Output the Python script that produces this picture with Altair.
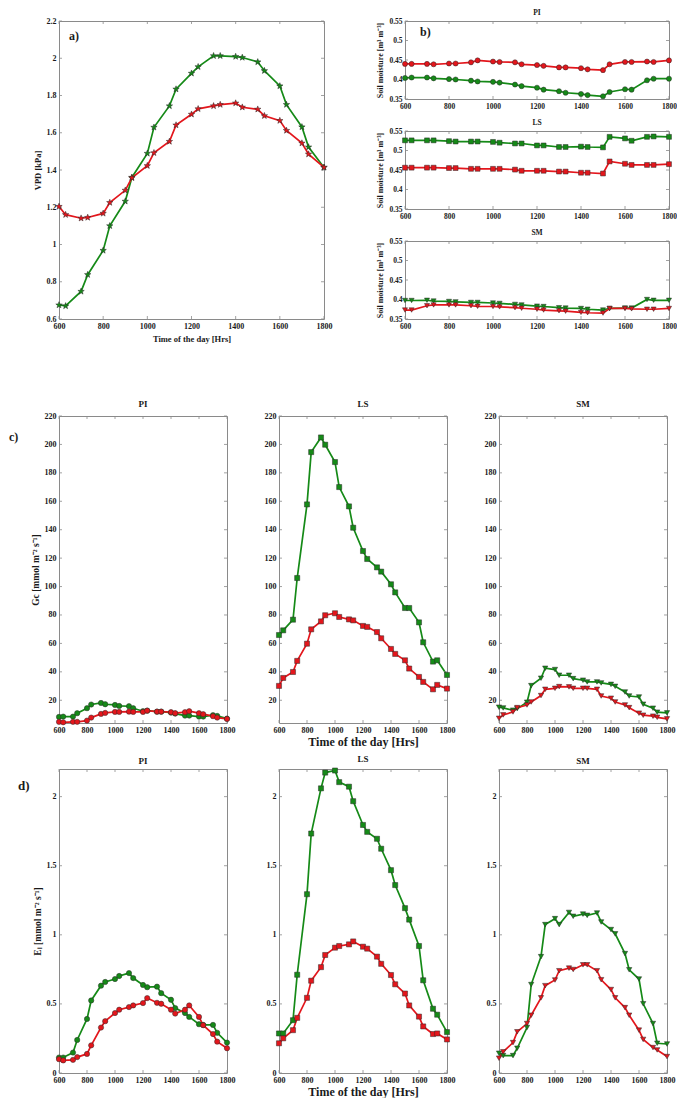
import math
import altair as alt
import pandas as pd

# ---------------- data ----------------
TIME = [600, 630, 700, 730, 800, 830, 900, 930, 1000, 1030, 1100, 1130, 1200,
        1230, 1300, 1330, 1400, 1430, 1500, 1530, 1600, 1630, 1700, 1730, 1800]
XTICKS = [600, 800, 1000, 1200, 1400, 1600, 1800]

# a) VPD [kPa]
VPD_GREEN = [0.675, 0.67, 0.748, 0.838, 0.968, 1.10, 1.232, 1.36, 1.489, 1.629, 1.744, 1.834, 1.919,
             1.954, 2.013, 2.013, 2.009, 2.004, 1.98, 1.933, 1.851, 1.751, 1.631, 1.523, 1.414]
VPD_RED = [1.204, 1.16, 1.141, 1.145, 1.167, 1.225, 1.291, 1.358, 1.423, 1.492, 1.553, 1.641, 1.699,
           1.728, 1.744, 1.751, 1.759, 1.737, 1.726, 1.691, 1.665, 1.612, 1.544, 1.485, 1.414]

# b) soil moisture
SOIL_PI_GREEN = [0.404, 0.405, 0.405, 0.403, 0.401, 0.400, 0.397, 0.395, 0.394, 0.392, 0.387, 0.383, 0.379,
                 0.374, 0.370, 0.366, 0.363, 0.360, 0.357, 0.368, 0.375, 0.374, 0.398, 0.402, 0.402]
SOIL_PI_RED = [0.440, 0.440, 0.440, 0.439, 0.441, 0.441, 0.444, 0.449, 0.446, 0.445, 0.444, 0.439, 0.437,
               0.435, 0.431, 0.431, 0.429, 0.426, 0.424, 0.439, 0.445, 0.445, 0.446, 0.445, 0.449]
SOIL_LS_GREEN = [0.526, 0.526, 0.526, 0.526, 0.524, 0.523, 0.523, 0.523, 0.522, 0.520, 0.518, 0.518, 0.513,
                 0.513, 0.509, 0.509, 0.510, 0.509, 0.508, 0.535, 0.531, 0.525, 0.535, 0.536, 0.535]
SOIL_LS_RED = [0.456, 0.456, 0.456, 0.456, 0.455, 0.455, 0.453, 0.453, 0.453, 0.453, 0.451, 0.448, 0.448,
               0.448, 0.446, 0.446, 0.443, 0.443, 0.441, 0.472, 0.466, 0.463, 0.463, 0.463, 0.465]
SOIL_SM_GREEN = [0.3975, 0.3975, 0.398, 0.396, 0.395, 0.394, 0.3925, 0.3925, 0.391, 0.390, 0.3875, 0.386, 0.383,
                 0.382, 0.379, 0.378, 0.377, 0.375, 0.373, 0.377, 0.378, 0.378, 0.400, 0.398, 0.398]
SOIL_SM_RED = [0.373, 0.373, 0.384, 0.386, 0.386, 0.386, 0.384, 0.3825, 0.382, 0.381, 0.379, 0.3775, 0.375,
               0.373, 0.371, 0.370, 0.367, 0.366, 0.365, 0.377, 0.377, 0.376, 0.375, 0.375, 0.377]

# c) Gc [mmol m-2 s-1]
GC_PI_GREEN = [8.3, 8.5, 8.5, 10.9, 14.4, 17.0, 18.1, 17.2, 16.7, 16.0, 15.8, 14.4, 12.3,
               12.7, 12.0, 12.0, 11.3, 10.6, 9.2, 9.2, 8.5, 8.5, 9.5, 9.0, 7.1]
GC_PI_RED = [4.8, 4.5, 4.8, 4.8, 5.7, 7.8, 10.4, 11.1, 11.8, 11.8, 12.0, 11.8, 11.8,
             12.7, 12.0, 12.0, 11.6, 10.9, 11.6, 12.3, 10.9, 10.2, 8.8, 7.8, 6.9]
GC_LS_GREEN = [65.9, 69.2, 76.7, 106.0, 157.8, 194.6, 204.9, 199.8, 187.6, 170.0, 156.4, 141.4, 125.0,
               119.4, 113.5, 110.5, 101.6, 95.9, 84.9, 84.9, 74.8, 60.8, 47.2, 48.1, 37.8]
GC_LS_RED = [30.1, 35.7, 39.9, 47.7, 59.8, 69.9, 75.5, 79.8, 81.2, 78.6, 76.9, 76.2, 72.3,
             71.6, 68.0, 63.6, 56.1, 52.6, 48.1, 42.3, 36.4, 32.9, 27.7, 30.8, 28.2]
GC_SM_GREEN = [15.1, 14.6, 13.0, 14.1, 18.6, 30.3, 35.5, 42.5, 41.6, 37.6, 37.6, 35.2, 34.1,
               32.9, 32.9, 32.2, 31.2, 29.8, 25.8, 23.0, 22.3, 17.2, 14.4, 11.6, 11.1]
GC_SM_RED = [7.3, 9.7, 11.8, 14.8, 16.7, 18.8, 23.3, 27.7, 28.4, 29.6, 29.4, 28.4, 28.4,
             28.4, 27.7, 23.0, 21.4, 18.8, 16.7, 14.8, 10.9, 9.5, 8.8, 8.0, 6.9]

# d) EL [mmol m-2 s-1]
EL_PI_GREEN = [0.112, 0.112, 0.148, 0.239, 0.391, 0.525, 0.632, 0.659, 0.680, 0.702, 0.723, 0.687, 0.637,
               0.621, 0.625, 0.578, 0.530, 0.470, 0.434, 0.406, 0.353, 0.348, 0.348, 0.291, 0.220]
EL_PI_RED = [0.100, 0.091, 0.095, 0.115, 0.138, 0.200, 0.329, 0.375, 0.434, 0.458, 0.477, 0.489, 0.506,
             0.542, 0.508, 0.501, 0.458, 0.430, 0.458, 0.489, 0.406, 0.346, 0.282, 0.227, 0.179]
EL_LS_GREEN = [0.286, 0.286, 0.382, 0.711, 1.294, 1.733, 2.060, 2.174, 2.189, 2.105, 2.072, 1.967, 1.795,
               1.745, 1.695, 1.623, 1.468, 1.360, 1.193, 1.110, 0.919, 0.671, 0.465, 0.422, 0.296]
EL_LS_RED = [0.215, 0.251, 0.310, 0.399, 0.544, 0.668, 0.766, 0.854, 0.907, 0.919, 0.931, 0.952, 0.914,
             0.900, 0.842, 0.790, 0.709, 0.642, 0.575, 0.489, 0.408, 0.337, 0.282, 0.286, 0.243]
EL_SM_GREEN = [0.143, 0.126, 0.126, 0.179, 0.329, 0.640, 0.842, 1.074, 1.117, 1.074, 1.162, 1.134, 1.150,
               1.141, 1.158, 1.093, 1.038, 1.007, 0.864, 0.747, 0.680, 0.501, 0.358, 0.215, 0.210]
EL_SM_RED = [0.107, 0.153, 0.220, 0.298, 0.358, 0.418, 0.544, 0.632, 0.673, 0.740, 0.759, 0.749, 0.783,
             0.783, 0.740, 0.675, 0.604, 0.544, 0.473, 0.418, 0.310, 0.243, 0.184, 0.167, 0.119]

# ---------------- style ----------------
GREEN = "#158a17"
RED = "#e3161c"
FRAME = "#8a8a8a"
FONT = "Liberation Serif"
TXT = "#1a1a1a"


def star_path(n=5, inner=0.42):
    pts = []
    for k in range(2 * n):
        r = 1.0 if k % 2 == 0 else inner
        a = math.radians(-90 + 180.0 / n * k)
        pts.append(f"{r * math.cos(a):.3f},{r * math.sin(a):.3f}")
    return "M" + " L".join(pts) + " Z"


STAR = star_path()


def panel(greens, reds, w, h, ydom, yticks, shape, msize, title=None, xtitle=None,
          ytitle=None, label=None, lx=0, ly=0, xtitle_size=9, ytitle_size=9,
          label_size=12, title_size=9, title_offset=3, label_font=8, anchor=None,
          xtitle_pad=4):
    n = len(TIME)
    df = pd.DataFrame({"t": TIME * 2, "v": greens + reds, "s": ["g"] * n + ["r"] * n})
    xs = alt.Scale(domain=[600, 1800], nice=False, zero=False)
    ys = alt.Scale(domain=ydom, nice=False, zero=False)
    cs = alt.Scale(domain=["g", "r"], range=[GREEN, RED])
    xaxis = alt.Axis(values=XTICKS, title=xtitle, titleFontSize=xtitle_size,
                     labelFontSize=label_font, labelFlush=False, labelOverlap=False,
                     format="d", titlePadding=xtitle_pad)
    yaxis = alt.Axis(values=yticks, title=ytitle, titleFontSize=ytitle_size,
                     labelFontSize=label_font, labelOverlap=False, format=".6~r")

    X = lambda f: alt.X(f, scale=xs, axis=xaxis)
    Y = lambda f: alt.Y(f, scale=ys, axis=yaxis)

    line = alt.Chart(df).mark_line(strokeWidth=1.7).encode(
        x=X("t:Q"), y=Y("v:Q"),
        color=alt.Color("s:N", scale=cs, legend=None),
        detail="s:N",
    )
    pts = alt.Chart(df).mark_point(filled=True, shape=shape, size=msize, opacity=1,
                                   stroke="#2a2a2a", strokeWidth=0.5).encode(
        x=X("t:Q"), y=Y("v:Q"),
        fill=alt.Fill("s:N", scale=cs, legend=None),
    )
    xt = pd.DataFrame({"t": XTICKS})
    yt = pd.DataFrame({"v": yticks})
    tk = dict(color=FRAME, strokeWidth=0.8)
    tb = alt.Chart(xt).mark_rule(**tk).encode(x=X("t:Q"), y=alt.value(h), y2=alt.value(h - 3))
    tt = alt.Chart(xt).mark_rule(**tk).encode(x=X("t:Q"), y=alt.value(0), y2=alt.value(3))
    tl = alt.Chart(yt).mark_rule(**tk).encode(y=Y("v:Q"), x=alt.value(0), x2=alt.value(3))
    tr = alt.Chart(yt).mark_rule(**tk).encode(y=Y("v:Q"), x=alt.value(w - 3), x2=alt.value(w))
    layers = [line, tb, tt, tl, tr, pts]
    if label:
        lab = alt.Chart(pd.DataFrame({"l": [label]})).mark_text(
            align="left", baseline="middle", font=FONT, fontWeight="bold",
            fontSize=label_size, color=TXT).encode(
            x=alt.value(lx), y=alt.value(ly), text="l:N")
        layers.append(lab)
    if anchor is not None:
        # invisible white spacer so that rows line up at the same offsets
        ax, ay = anchor
        sp = alt.Chart(pd.DataFrame({"l": [0]})).mark_rule(color="white", strokeWidth=1).encode(
            x=alt.value(ax), x2=alt.value(ax + 1), y=alt.value(ay), y2=alt.value(ay + 1))
        layers.append(sp)
    props = dict(width=w, height=h)
    if title:
        props["title"] = alt.TitleParams(text=title, fontSize=title_size, offset=title_offset)
    return alt.layer(*layers).properties(**props)


# ---------------- panels ----------------
SOIL_T = [0.35, 0.4, 0.45, 0.5, 0.55]
GC_T = [20, 40, 60, 80, 100, 120, 140, 160, 180, 200, 220]
EL_T = [0, 0.5, 1, 1.5, 2]
VPD_T = [0.6, 0.8, 1.0, 1.2, 1.4, 1.6, 1.8, 2.0, 2.2]
SOIL_TITLE = "Soil moisture [m\u00b3 m\u207b\u00b3]"
FLUX_UNIT = " [mmol m\u207b\u00b2 s\u207b\u00b9]"
AX = -50

pa = panel(VPD_GREEN, VPD_RED, 265, 298, [0.6, 2.2], VPD_T, STAR, 45,
           xtitle="Time of the day [Hrs]", ytitle="VPD [kPa]", label="a)", lx=10, ly=15,
           xtitle_size=8.5, ytitle_size=8.5, label_size=12, anchor=(AX, -8.5))

bw, bh = 264, 78
bkw = dict(ytitle=SOIL_TITLE, ytitle_size=8, title_size=7.5, title_offset=1, label_font=7.5)
pb1 = panel(SOIL_PI_GREEN, SOIL_PI_RED, bw, bh, [0.35, 0.55], SOIL_T, "circle", 26,
            title="PI", label="b)", lx=15, ly=11, label_size=12, **bkw)
pb2 = panel(SOIL_LS_GREEN, SOIL_LS_RED, bw, bh, [0.35, 0.55], SOIL_T, "square", 24,
            title="LS", **bkw)
pb3 = panel(SOIL_SM_GREEN, SOIL_SM_RED, bw, bh, [0.35, 0.55], SOIL_T, "triangle-down", 26,
            title="SM", **bkw)

cw, ch = 168, 307
pc1 = panel(GC_PI_GREEN, GC_PI_RED, cw, ch, [4, 220], GC_T, "circle", 28,
            title="PI", ytitle="Gc" + FLUX_UNIT, label="c)", lx=AX, ly=21,
            ytitle_size=9.5, label_size=12, anchor=(AX, 100))
pc2 = panel(GC_LS_GREEN, GC_LS_RED, cw, ch, [4, 220], GC_T, "square", 26,
            title="LS", xtitle="Time of the day [Hrs]", xtitle_size=12, xtitle_pad=2)
pc3 = panel(GC_SM_GREEN, GC_SM_RED, cw, ch, [4, 220], GC_T, "triangle-down", 28,
            title="SM")

dh = 304
pd1 = panel(EL_PI_GREEN, EL_PI_RED, cw, dh, [0, 2.2], EL_T, "circle", 28,
            title="PI", ytitle="E\u2097" + FLUX_UNIT, label="d)", lx=-41, ly=17,
            ytitle_size=9.5, label_size=13, anchor=(AX, 100))
pd2 = panel(EL_LS_GREEN, EL_LS_RED, cw, dh, [0, 2.2], EL_T, "square", 26,
            title="LS", xtitle="Time of the day [Hrs]", xtitle_size=12, xtitle_pad=2)
pd3 = panel(EL_SM_GREEN, EL_SM_RED, cw, dh, [0, 2.2], EL_T, "triangle-down", 28,
            title="SM")

col_b = alt.vconcat(pb1, pb2, pb3, spacing=32, bounds="flush")
top = alt.hconcat(pa, col_b, spacing=43)
row_c = alt.hconcat(pc1, pc2, pc3, spacing=52, bounds="flush")
row_d = alt.hconcat(pd1, pd2, pd3, spacing=52, bounds="flush")

chart = alt.vconcat(top, row_c, spacing=56)
chart = alt.vconcat(chart, row_d, spacing=6)

chart = chart.properties(padding=0).configure_view(
    stroke=FRAME, strokeWidth=1
).configure_axis(
    labelFont=FONT, labelFontWeight="bold", labelColor=TXT,
    titleFont=FONT, titleFontWeight="bold", titleColor=TXT,
    domain=False, ticks=False, grid=False, labelPadding=3, titlePadding=4,
    labelOverlap=False,
).configure_title(font=FONT, fontWeight="bold", color=TXT, anchor="middle")

chart.save("out.html", embed_options={"renderer": "svg", "actions": False})
